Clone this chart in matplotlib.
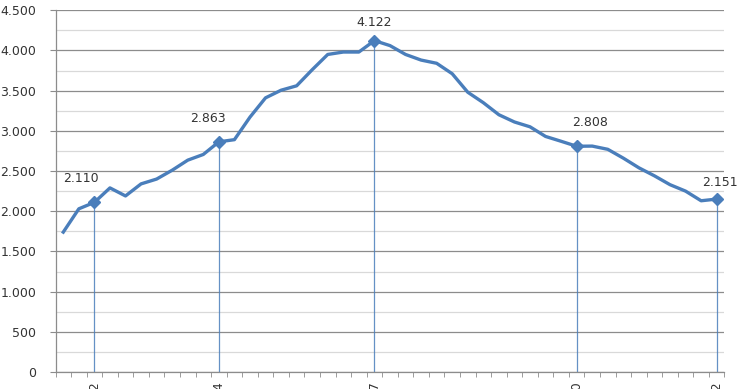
import matplotlib.pyplot as plt
from matplotlib.ticker import MultipleLocator, FuncFormatter

# -------------------------
# Data
# -------------------------
values = [
    1740, 2030, 2110, 2290, 2190, 2340, 2400, 2510, 2635, 2706,
    2863, 2890, 3170, 3410, 3505, 3560, 3760, 3950, 3980, 3980,
    4122, 4060, 3950, 3880, 3840, 3710, 3480, 3350, 3200, 3110,
    3050, 2930, 2870, 2808, 2810, 2770, 2660, 2540, 2440, 2330,
    2250, 2130, 2151,
]
marked_idx = [2, 10, 20, 33, 42]
tick_labels = ["2002", "2004", "2007", "2010", "2012"]
# nudges for the data labels (points), as placed in the reference
label_dx = [-10, -8, 0, 10, 2]
label_dy = [17, 17, 13, 17, 12]

BLUE = "#4a7ebb"
TEXT = "#333333"

def thousands(v, pos=None):
    return f"{v:,.0f}".replace(",", ".")

# -------------------------
# Plot
# -------------------------
fig = plt.figure(figsize=(7.4, 3.89), dpi=100)
ax = fig.add_axes([0.075, 0.0437, 0.904, 0.930])

x = list(range(len(values)))
mx = [x[i] for i in marked_idx]
my = [values[i] for i in marked_idx]

ax.vlines(mx, 0, my, color=BLUE, lw=0.9, alpha=0.85, zorder=2)
ax.plot(x, values, color=BLUE, lw=2.4, solid_joinstyle="round", zorder=3)
ax.plot(mx, my, ls="none", marker="D", ms=6.5, color=BLUE, zorder=4)

for xi, yi, dx, dy in zip(mx, my, label_dx, label_dy):
    ax.annotate(thousands(yi), (xi, yi), xytext=(dx, dy), textcoords="offset points",
                ha="center", va="center", fontsize=9, color=TEXT)

ax.set_xlim(-0.5, len(values) - 0.5)
ax.set_ylim(0, 4500)

ax.yaxis.set_major_locator(MultipleLocator(500))
ax.yaxis.set_minor_locator(MultipleLocator(250))
ax.yaxis.set_major_formatter(FuncFormatter(thousands))
ax.grid(which="major", axis="y", color="#8c8c8c", lw=0.9)
ax.grid(which="minor", axis="y", color="#d9d9d9", lw=0.9)
ax.set_axisbelow(True)

ax.set_xticks(mx)
ax.set_xticklabels(tick_labels, rotation=90, va="top")
ax.set_xticks([i - 0.5 for i in range(len(values) + 1)], minor=True)
ax.tick_params(axis="x", which="major", length=0, pad=6.5, labelsize=9, labelcolor=TEXT)
ax.tick_params(axis="x", which="minor", length=3.5, color="#8c8c8c", direction="out")
ax.tick_params(axis="y", which="major", length=4, color="#8c8c8c", pad=10,
               labelsize=9, labelcolor=TEXT)
ax.tick_params(axis="y", which="minor", length=0)

for side in ["top", "right"]:
    ax.spines[side].set_visible(False)
for side in ["left", "bottom"]:
    ax.spines[side].set_color("#8c8c8c")
    ax.spines[side].set_linewidth(0.9)

plt.savefig("out.png", dpi=100)
